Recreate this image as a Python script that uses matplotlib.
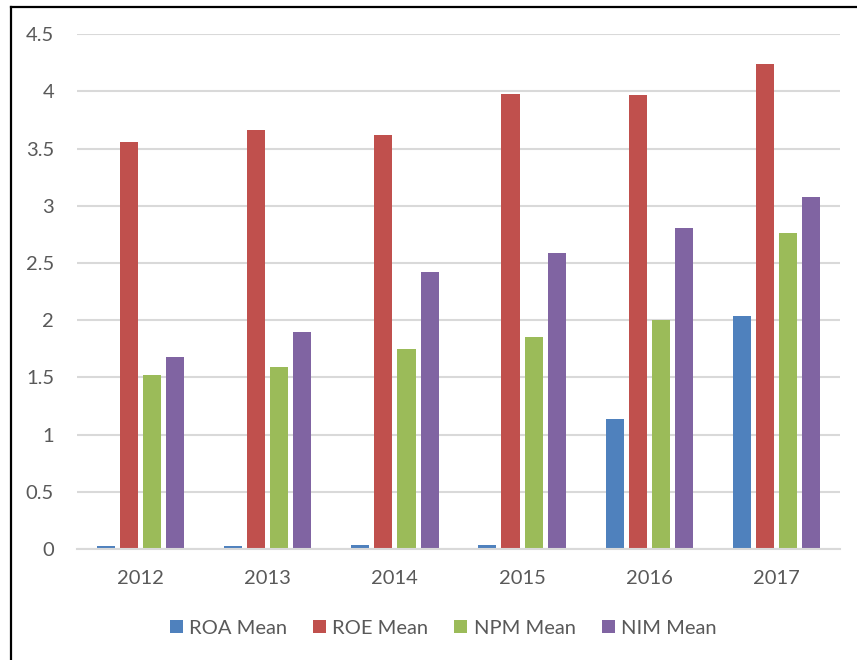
import matplotlib
matplotlib.use("Agg")
import matplotlib.pyplot as plt
from matplotlib.lines import Line2D
from matplotlib.patches import Patch
import numpy as np

plt.rcParams['font.family'] = ['Lato', 'DejaVu Sans']

years = ["2012", "2013", "2014", "2015", "2016", "2017"]
series_names = ["ROA Mean", "ROE Mean", "NPM Mean", "NIM Mean"]
roa = [0.025, 0.03, 0.035, 0.035, 1.135, 2.035]
roe = [3.56, 3.66, 3.62, 3.975, 3.97, 4.24]
npm = [1.52, 1.595, 1.745, 1.85, 2.0, 2.76]
nim = [1.675, 1.895, 2.425, 2.585, 2.805, 3.075]
colors = ["#4F81BD", "#C0504D", "#9BBB59", "#8064A2"]
yticks = [0, 0.5, 1, 1.5, 2, 2.5, 3, 3.5, 4, 4.5]
ytick_labels = ["0", "0.5", "1", "1.5", "2", "2.5", "3", "3.5", "4", "4.5"]

text_color = "#595959"
grid_color = "#D9D9D9"

fig = plt.figure(figsize=(8.57, 6.6), dpi=100)
ax = fig.add_axes([77 / 857, 1 - 549 / 660, (840 - 77) / 857, (549 - 34.3) / 660])

x = np.arange(len(years))
step = 0.182
width = 0.142
for i, (vals, name, c) in enumerate(zip([roa, roe, npm, nim], series_names, colors)):
    ax.bar(x + (i - 1.5) * step, vals, width=width, color=c, label=name, zorder=3)

ax.set_xlim(-0.5, len(years) - 0.5)
ax.set_ylim(0, 4.5)
ax.set_yticks(yticks)
ax.set_yticklabels(ytick_labels)
ax.set_xticks(x)
ax.set_xticklabels(years)
ax.yaxis.grid(True, color=grid_color, linewidth=1.5, zorder=0)
ax.set_axisbelow(True)

for side in ["top", "right", "left"]:
    ax.spines[side].set_visible(False)
ax.spines["bottom"].set_color(grid_color)
ax.spines["bottom"].set_linewidth(1.5)
ax.spines["bottom"].set_zorder(4)

ax.tick_params(axis="both", length=0, labelsize=14.5, labelcolor=text_color)
ax.tick_params(axis="y", pad=16.5)
ax.tick_params(axis="x", pad=15)

handles = [Patch(facecolor=c, edgecolor="none") for c in colors]
fig.legend(handles, series_names, loc="center", bbox_to_anchor=(443 / 857, 1 - 628 / 660),
           ncol=4, frameon=False, fontsize=14.5, labelcolor=text_color,
           handlelength=0.65, handleheight=0.65, handletextpad=0.3, columnspacing=1.3)

# frame lines along the left and top edges
fig.add_artist(Line2D([11 / 857, 11 / 857], [0, 1 - 7 / 660], transform=fig.transFigure,
                      color="black", linewidth=1.6))
fig.add_artist(Line2D([11 / 857, 1], [1 - 7 / 660, 1 - 7 / 660], transform=fig.transFigure,
                      color="black", linewidth=1.6))

fig.savefig("out.png", dpi=100, facecolor="white")
